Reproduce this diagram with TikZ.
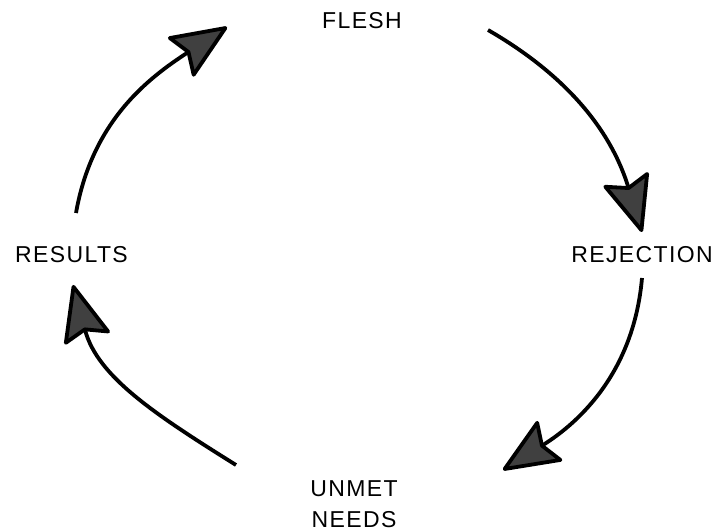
\documentclass[tikz,border=0pt]{standalone}
\usepackage{fontspec}
\setmainfont{Liberation Sans}
\newfontfamily\etiqfont[LetterSpace=6]{Liberation Sans}
\usetikzlibrary{arrows.meta}

\begin{document}
\begin{tikzpicture}[x=1pt, y=1pt,
    etiqueta/.style={font=\etiqfont\fontsize{23}{30.5}\selectfont, inner sep=2pt, align=center},
    ciclo/.style={line width=3.8pt, -{Stealth[length=60pt, width=50pt, inset=9pt, round, fill=black!75]}}]
    \useasboundingbox (0,0) rectangle (720,532);

    % Etiquetas
    \node[etiqueta] (flesh) at (362,511.5) {FLESH};
    \node[etiqueta] (rejection) at (642,277.5) {REJECTION};
    \node[etiqueta] (unmet) at (354,28) {UNMET\\NEEDS};
    \node[etiqueta] (results) at (71.5,277.5) {RESULTS};

    % Flechas del ciclo
    \draw[ciclo] ([shift={(4.5,41.5)}]results.center) to[out=80, in=213] ([shift={(-135,-6.5)}]flesh.center);
    \draw[ciclo] ([shift={(126,-9.5)}]flesh.center) to[out=-30, in=107] ([shift={(0,22.5)}]rejection.center);
    \draw[ciclo] ([shift={(0,-23.5)}]rejection.center) to[out=-95, in=32] ([shift={(149,34)}]unmet.center);
    \draw[ciclo] ([shift={(-118,39)}]unmet.center) to[out=148, in=-75] ([shift={(1.5,-30.5)}]results.center);

\end{tikzpicture}
\end{document}
